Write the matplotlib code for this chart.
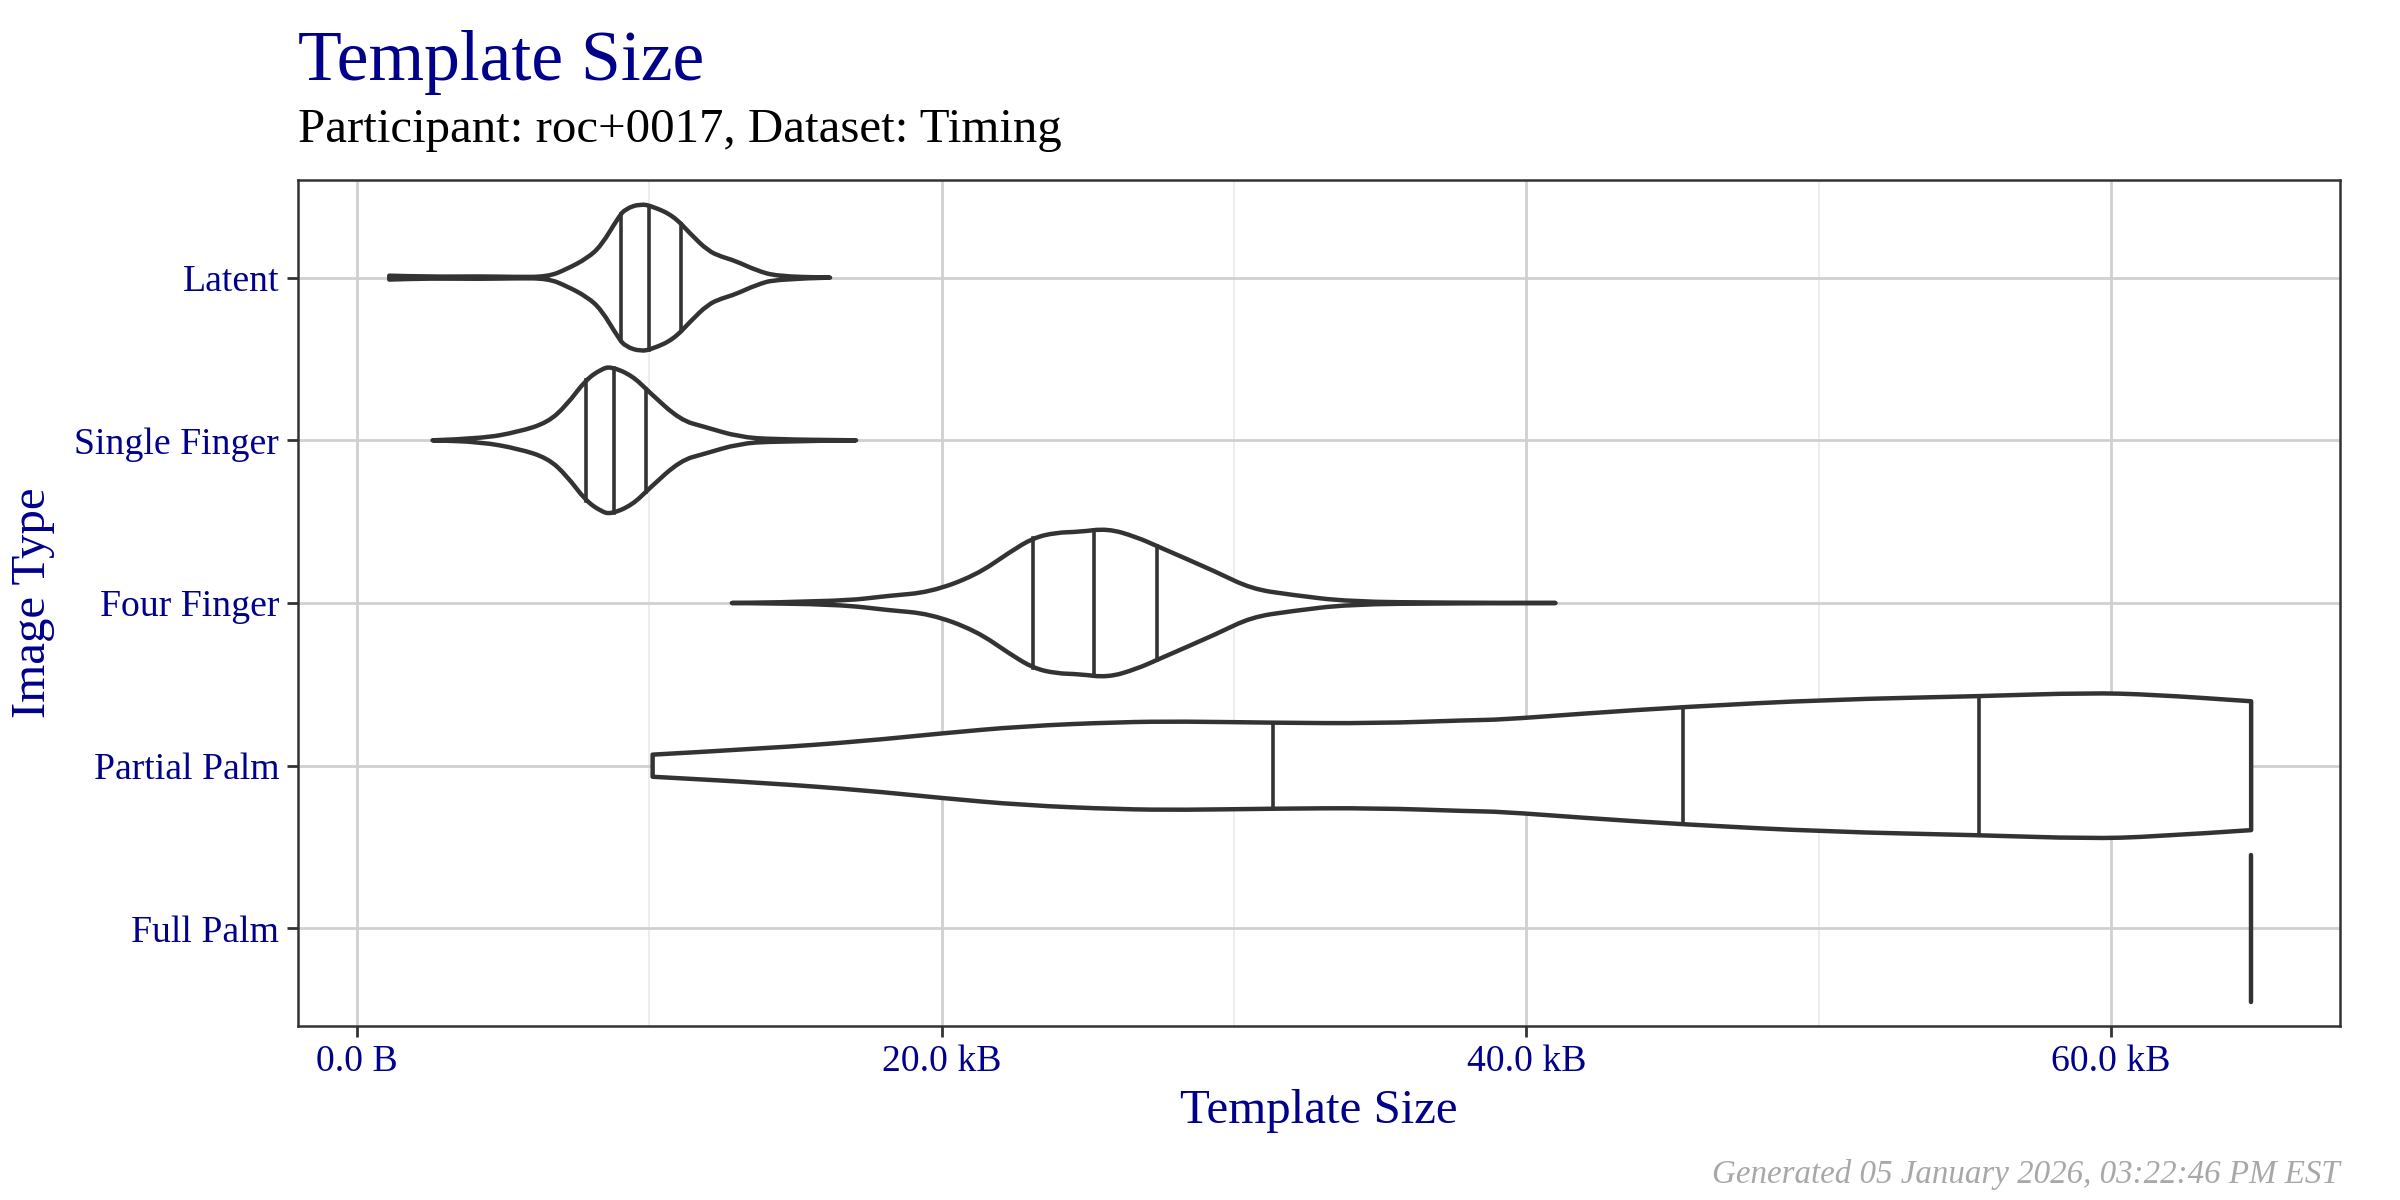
import matplotlib
matplotlib.use('Agg')
import matplotlib.pyplot as plt
import numpy as np
from matplotlib.path import Path
from matplotlib.patches import PathPatch
from matplotlib.ticker import FixedLocator

plt.rcParams['font.family'] = ['Liberation Serif', 'DejaVu Serif']

# categories, top to bottom
categories = ['Latent', 'Single Finger', 'Four Finger', 'Partial Palm', 'Full Palm']

# violin outlines: size in kB, half width in category units
latent_x = [1.10, 2.46, 4.23, 5.41, 6.52, 7.17, 7.88, 8.35, 8.94, 9.18, 9.70, 10.12,
            10.82, 11.41, 12.00, 12.47, 12.94, 13.65, 14.36, 16.18]
latent_w = [0.012, 0.005, 0.008, 0.004, 0.005, 0.052, 0.12, 0.196, 0.371, 0.423, 0.454, 0.437,
            0.38, 0.268, 0.165, 0.128, 0.103, 0.045, 0.008, 0.0]
latent_q = [9.03, 10.00, 11.08]

single_x = [2.58, 4.23, 5.52, 6.52, 7.17, 7.82, 8.35, 8.68, 9.41, 10.00, 11.06, 11.88,
            13.06, 14.24, 17.07]
single_w = [0.0, 0.01, 0.052, 0.109, 0.217, 0.371, 0.437, 0.454, 0.398, 0.295, 0.124, 0.083,
            0.021, 0.006, 0.0]
single_q = [7.82, 8.80, 9.88]

four_x = [12.82, 16.45, 18.21, 19.59, 21.16, 22.34, 23.13, 23.91, 24.70, 25.68, 26.66, 27.44,
          29.41, 30.59, 31.96, 33.93, 37.27, 41.00]
four_w = [0.0, 0.008, 0.045, 0.066, 0.169, 0.314, 0.40, 0.433, 0.437, 0.458, 0.406, 0.344,
          0.19, 0.087, 0.05, 0.008, 0.002, 0.0]
four_q = [23.13, 25.21, 27.37]

partial_x = [10.11, 14.05, 17.33, 19.95, 22.79, 26.07, 28.26, 31.32, 34.82, 38.10, 39.14,
             41.93, 45.37, 50.30, 55.50, 59.22, 61.45, 64.80]
partial_w = [0.068, 0.107, 0.151, 0.198, 0.243, 0.268, 0.272, 0.264, 0.26, 0.28, 0.283,
             0.32, 0.361, 0.406, 0.427, 0.448, 0.437, 0.396]
partial_q = [31.32, 45.37, 55.50]

full_value = 64.80   # every full palm template has the same size
full_width = 0.45

tick_values = [0, 20, 40, 60]
tick_labels = ['0.0 B', '20.0 kB', '40.0 kB', '60.0 kB']
minor_values = [10, 30, 50]

navy = '#00008B'
dark = '#333333'


def smooth_edge(pts):
    # quadratic bezier through the midpoints, the read points act as control points
    verts = [pts[0]]
    codes = []
    for i in range(1, len(pts) - 1):
        mid = ((pts[i][0] + pts[i + 1][0]) / 2, (pts[i][1] + pts[i + 1][1]) / 2)
        verts += [pts[i], mid]
        codes += [Path.CURVE3, Path.CURVE3]
    verts.append(pts[-1])
    codes.append(Path.LINETO)
    return verts, codes


def violin_path(xs, ws, pos):
    top = [(x, pos - w) for x, w in zip(xs, ws)]
    bottom = [(x, pos + w) for x, w in zip(xs, ws)][::-1]
    v1, c1 = smooth_edge(top)
    v2, c2 = smooth_edge(bottom)
    verts = v1 + v2 + [v1[0]]
    codes = [Path.MOVETO] + c1 + [Path.LINETO] + c2 + [Path.CLOSEPOLY]
    return Path(verts, codes)


fig = plt.figure(figsize=(12, 6), dpi=200)
ax = fig.add_axes([0.1242, 0.145, 0.9750 - 0.1242, 0.85 - 0.145])

violins = [(latent_x, latent_w, latent_q), (single_x, single_w, single_q),
           (four_x, four_w, four_q), (partial_x, partial_w, partial_q)]

for i, (xs, ws, qs) in enumerate(violins):
    pos = i + 1
    patch = PathPatch(violin_path(xs, ws, pos), facecolor='white', edgecolor=dark,
                      linewidth=1.6, zorder=3, joinstyle='round')
    ax.add_patch(patch)
    for q in qs:
        h = np.interp(q, xs, ws)
        ax.plot([q, q], [pos - h, pos + h], color=dark, linewidth=1.3, zorder=4)

ax.plot([full_value, full_value], [5 - full_width, 5 + full_width], color=dark,
        linewidth=1.6, solid_capstyle='round', zorder=3)

ax.set_xlim(-2.02, 67.84)
ax.set_ylim(5.6, 0.4)

ax.xaxis.set_major_locator(FixedLocator(tick_values))
ax.xaxis.set_minor_locator(FixedLocator(minor_values))
ax.set_xticklabels(tick_labels)
ax.set_yticks(range(1, 6))
ax.set_yticklabels(categories)

ax.grid(which='major', color='#D0D0D0', linewidth=1.0, zorder=0)
ax.grid(which='minor', axis='x', color='#E8E8E8', linewidth=0.55, zorder=0)
ax.set_axisbelow(True)

for s in ax.spines.values():
    s.set_color(dark)
    s.set_linewidth(0.9)

ax.tick_params(which='major', length=3.8, width=1.0, color=dark, labelcolor=navy,
               labelsize=13.6, pad=3)
ax.tick_params(which='minor', length=0)

fig.text(0.1242, 0.9333, 'Template Size', color=navy, fontsize=25.8, va='baseline')
fig.text(0.1242, 0.8817, 'Participant: roc+0017, Dataset: Timing', color='black',
         fontsize=17.6, va='baseline')
fig.text(0.5496, 0.0642, 'Template Size', color=navy, fontsize=17.6, ha='center',
         va='baseline')
fig.text(0.0138, 0.4975, 'Image Type', color=navy, fontsize=17.6, rotation=90,
         ha='center', va='center')
fig.text(0.975, 0.0142, 'Generated 05 January 2026, 03:22:46 PM EST', color='#A8A8A8',
         fontsize=11.9, style='italic', ha='right', va='baseline')

fig.savefig('out.png', dpi=200, facecolor='white')
